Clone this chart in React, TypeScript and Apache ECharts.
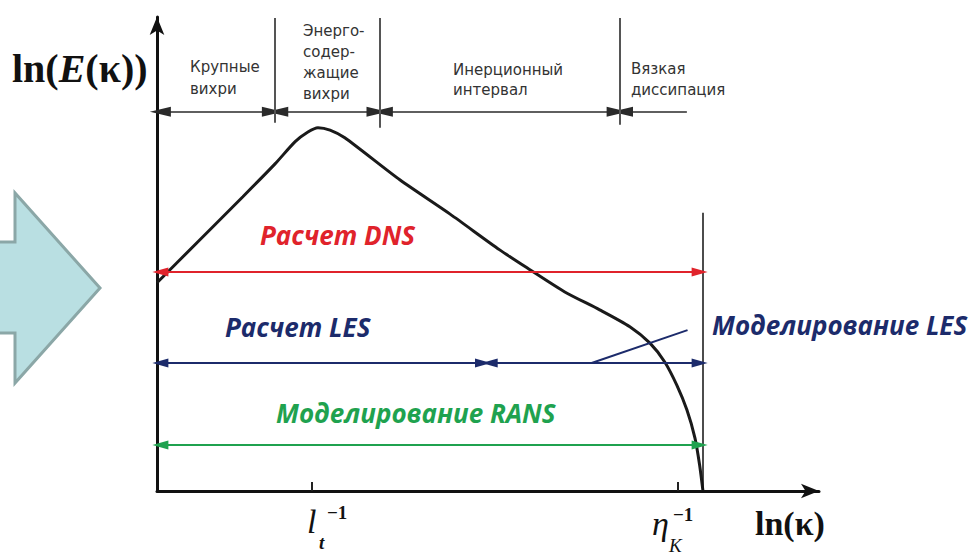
import React, { useEffect, useRef } from "react";
import * as echarts from "echarts";

// Energy spectrum curve, ln(E) vs ln(k) in schematic units
const CURVE_X = [0, 6.4, 12.8, 17.6, 20.6, 22.5, 24.0, 25.8, 28.0, 36.2, 43.7, 51.1, 55.6, 60.8, 66.0, 70.5, 73.5, 75.7, 77.5, 79.0, 80.2, 80.9, 81.4];
const CURVE_Y = [43.1, 52.0, 60.9, 67.7, 72.3, 74.3, 75.2, 74.7, 73.1, 64.4, 57.3, 49.9, 45.8, 41.2, 37.5, 34.0, 30.6, 26.7, 21.9, 16.8, 11.0, 5.4, 0];

// characteristic wavenumbers (tick positions)
const TICK_VALUES = [23.1, 77.6]; // l_t^-1, eta_K^-1
const CUTOFF_X = 81.4; // dissipation cutoff line
const CUTOFF_TOP = 57.6;

// top range bands
const BAND_EDGES = [0.5, 17.6, 33.2, 69.0, 79.0];
const BAND_SEP_TOP = 97.9;
const BAND_SEP_BOTTOM = [76.2, 75.2, 75.8];
const BAND_Y = 78.5;
const BAND_LABELS = ["Крупные\nвихри", "Энерго-\nсодер-\nжащие\nвихри", "Инерционный\nинтервал", "Вязкая\nдиссипация"];

// resolved ranges
const DNS_Y = 45.3;
const LES_Y = 26.5;
const RANS_Y = 9.5;
const RANGE_START = 0.5;
const RANGE_END = 80.9;
const LES_SPLIT = [48.6, 49.6];
const LES_POINTER = [[64.8, 26.5], [79.1, 33.3]];

const X_MAX = 98.7;
const Y_MAX = 98.1;

const RED = "#e0232b";
const BLUE = "#1c2b6b";
const GREEN = "#1fa24f";
const GRAY = "#2a2a2a";

function seg(x1: number, y1: number, x2: number, y2: number, s1: string, s2: string, size: number[]) {
  return [
    { coord: [x1, y1], symbol: s1, symbolSize: size },
    { coord: [x2, y2], symbol: s2, symbolSize: size },
  ];
}

function markSeries(name: string, color: string, width: number, data: any[]) {
  return {
    type: "line",
    name,
    data: [],
    silent: true,
    markLine: {
      silent: true,
      animation: false,
      label: { show: false },
      emphasis: { disabled: true },
      lineStyle: { color, width, type: "solid" },
      itemStyle: { color },
      data,
    },
  };
}

export default function App() {
  const ref = useRef<HTMLDivElement>(null);
  useEffect(() => {
    if (!ref.current) return;
    const chart = echarts.init(ref.current, undefined, { renderer: "svg" });

    const topArrowSize = [10, 21];
    const arrowSize = [9, 16];
    const bandSegs = [
      seg(BAND_EDGES[0], BAND_Y, BAND_EDGES[1] - 0.4, BAND_Y, "triangle", "triangle", topArrowSize),
      seg(BAND_EDGES[1] + 0.4, BAND_Y, BAND_EDGES[2] - 0.4, BAND_Y, "triangle", "triangle", topArrowSize),
      seg(BAND_EDGES[2] + 0.4, BAND_Y, BAND_EDGES[3] - 0.4, BAND_Y, "triangle", "triangle", topArrowSize),
      seg(BAND_EDGES[3] + 0.4, BAND_Y, BAND_EDGES[4], BAND_Y, "triangle", "none", topArrowSize),
    ];
    const sepSegs = [1, 2, 3].map((i, k) =>
      seg(BAND_EDGES[i], BAND_SEP_TOP, BAND_EDGES[i], BAND_SEP_BOTTOM[k], "none", "none", [1, 1])
    );

    const bandFont = "15px 'DejaVu Sans', sans-serif";
    const methodFont = "italic bold 26px 'Open Sans', sans-serif";

    const option: any = {
      animation: false,
      backgroundColor: "#ffffff",
      grid: { left: 157, right: 160, top: 17, bottom: 67 },
      xAxis: {
        type: "value",
        min: 0,
        max: X_MAX,
        axisLine: {
          show: true,
          symbol: ["none", "arrow"],
          symbolSize: [11, 18],
          lineStyle: { color: "#111", width: 3 },
        },
        axisTick: {
          show: true,
          inside: true,
          length: 9,
          customValues: TICK_VALUES,
          lineStyle: { color: "#222", width: 2 },
        },
        axisLabel: { show: false },
        splitLine: { show: false },
      },
      yAxis: {
        type: "value",
        min: 0,
        max: Y_MAX,
        axisLine: {
          show: true,
          symbol: ["none", "arrow"],
          symbolSize: [11, 18],
          lineStyle: { color: "#111", width: 3 },
        },
        axisTick: { show: false },
        axisLabel: { show: false },
        splitLine: { show: false },
      },
      series: [
        {
          type: "line",
          name: "E(k)",
          data: CURVE_X.map((x, i) => [x, CURVE_Y[i]]),
          smooth: 0.25,
          symbol: "none",
          silent: true,
          lineStyle: { color: "#1a1a1a", width: 3 },
          z: 3,
        },
        markSeries("bands", GRAY, 1.5, bandSegs),
        markSeries("separators", "#555", 2, sepSegs),
        markSeries("cutoff", "#111", 1.5, [seg(CUTOFF_X, CUTOFF_TOP, CUTOFF_X, 0, "none", "none", [1, 1])]),
        markSeries("DNS", RED, 2, [seg(RANGE_START, DNS_Y, RANGE_END, DNS_Y, "triangle", "triangle", arrowSize)]),
        markSeries("LES", BLUE, 2, [
          seg(RANGE_START, LES_Y, LES_SPLIT[0], LES_Y, "triangle", "triangle", arrowSize),
          seg(LES_SPLIT[1], LES_Y, RANGE_END, LES_Y, "triangle", "triangle", arrowSize),
          seg(LES_POINTER[0][0], LES_POINTER[0][1], LES_POINTER[1][0], LES_POINTER[1][1], "none", "none", [1, 1]),
        ]),
        markSeries("RANS", GREEN, 2, [seg(RANGE_START, RANS_Y, RANGE_END, RANS_Y, "triangle", "triangle", arrowSize)]),
      ],
      graphic: [
        {
          type: "polygon",
          silent: true,
          shape: { points: [[-5, 242], [15, 242], [15, 193], [100, 288], [15, 383], [15, 333], [-5, 333]] },
          style: { fill: "#b9dfe2", stroke: "#8ba7a7", lineWidth: 3 },
        },
        {
          type: "text",
          left: 12,
          top: 48,
          style: {
            text: "{a|ln(}{e|E}{a|(κ))}",
            rich: {
              a: { font: "bold 40px 'Liberation Serif', serif", fill: "#111" },
              e: { font: "italic bold 40px 'Liberation Serif', serif", fill: "#111" },
            },
          },
        },
        {
          type: "text",
          left: 755,
          top: 506,
          style: { text: "ln(κ)", font: "bold 34px 'Liberation Serif', serif", fill: "#111" },
        },
        // l_t^-1
        { type: "text", left: 307, top: 504, style: { text: "l", font: "italic 34px 'Liberation Serif', serif", fill: "#111" } },
        { type: "text", left: 319, top: 533, style: { text: "t", font: "italic bold 19px 'Liberation Serif', serif", fill: "#111" } },
        { type: "text", left: 327, top: 503, style: { text: "−1", font: "bold 19px 'Liberation Serif', serif", fill: "#111" } },
        // eta_K^-1
        { type: "text", left: 652, top: 506, style: { text: "η", font: "italic 34px 'Liberation Serif', serif", fill: "#111" } },
        { type: "text", left: 669, top: 536, style: { text: "K", font: "italic 19px 'Liberation Serif', serif", fill: "#111" } },
        { type: "text", left: 673, top: 505, style: { text: "−1", font: "bold 19px 'Liberation Serif', serif", fill: "#111" } },
        // band labels
        { type: "text", left: 190, top: 56, style: { text: BAND_LABELS[0], font: bandFont, fill: "#333", lineHeight: 22 } },
        { type: "text", left: 303, top: 20, style: { text: BAND_LABELS[1], font: bandFont, fill: "#333", lineHeight: 21 } },
        { type: "text", left: 453, top: 60, style: { text: BAND_LABELS[2], font: bandFont, fill: "#333", lineHeight: 20 } },
        { type: "text", left: 631, top: 58, style: { text: BAND_LABELS[3], font: bandFont, fill: "#333", lineHeight: 21 } },
        // method labels
        { type: "text", left: 260, top: 222, style: { text: "Расчет DNS", font: methodFont, fill: RED } },
        { type: "text", left: 225, top: 314, style: { text: "Расчет LES", font: methodFont, fill: BLUE } },
        { type: "text", left: 712, top: 312, style: { text: "Моделирование LES", font: methodFont, fill: BLUE } },
        { type: "text", left: 276, top: 400, style: { text: "Моделирование RANS", font: methodFont, fill: GREEN } },
      ],
    };
    chart.setOption(option);
    return () => chart.dispose();
  }, []);
  return <div ref={ref} style={{ position: "fixed", left: 0, top: 0, width: 979, height: 558 }} />;
}
